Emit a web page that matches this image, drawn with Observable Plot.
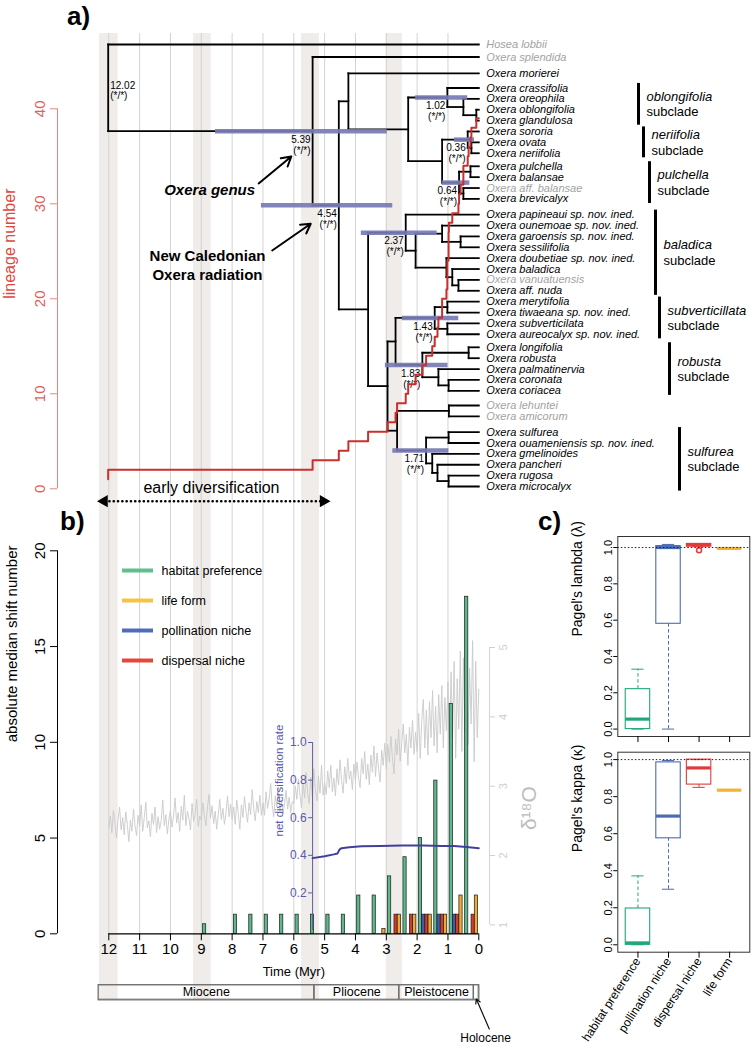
<!DOCTYPE html>
<html>
<head>
<meta charset="utf-8">
<script src="https://cdn.jsdelivr.net/npm/d3@7"></script>
<script src="https://cdn.jsdelivr.net/npm/@observablehq/plot@0.6"></script>
<style>
  html, body { margin: 0; padding: 0; background: #fff; }
  #fig { position: relative; width: 751px; height: 1048px; overflow: hidden; font-family: "Liberation Sans", Arial, Helvetica, sans-serif; }
  #fig .layer { position: absolute; left: 0; top: 0; width: 751px; height: 1048px; }
  #fig .panel { position: absolute; z-index: 10; font-weight: bold; font-size: 26px; line-height: 1; }
</style>
</head>
<body>
<div id="fig">
  <div class="panel" style="left:67px;top:3px">a)</div>
  <div class="panel" style="left:60px;top:508px">b)</div>
  <div class="panel" style="left:538px;top:508px">c)</div>
</div>
<script>
// ======================= DATA =======================
// ---- panel a: dated phylogeny ----
const tipNames = [
  "Hosea lobbii", "Oxera splendida", "Oxera morierei", "Oxera crassifolia", "Oxera oreophila",
  "Oxera oblongifolia", "Oxera glandulosa", "Oxera sororia", "Oxera ovata", "Oxera neriifolia",
  "Oxera pulchella", "Oxera balansae", "Oxera aff. balansae", "Oxera brevicalyx",
  "Oxera papineaui sp. nov. ined.", "Oxera ounemoae sp. nov. ined.", "Oxera garoensis sp. nov. ined.",
  "Oxera sessilifolia", "Oxera doubetiae sp. nov. ined.", "Oxera baladica", "Oxera vanuatuensis",
  "Oxera aff. nuda", "Oxera merytifolia", "Oxera tiwaeana sp. nov. ined.", "Oxera subverticilata",
  "Oxera aureocalyx sp. nov. ined.", "Oxera longifolia", "Oxera robusta", "Oxera palmatinervia",
  "Oxera coronata", "Oxera coriacea", "Oxera lehuntei", "Oxera amicorum", "Oxera sulfurea",
  "Oxera ouameniensis sp. nov. ined.", "Oxera gmelinoides", "Oxera pancheri", "Oxera rugosa",
  "Oxera microcalyx"
];
const greyTips = ["Hosea lobbii", "Oxera splendida", "Oxera aff. balansae", "Oxera vanuatuensis", "Oxera lehuntei", "Oxera amicorum"];
// [node id, age (Myr), [children top -> bottom]]
const treeNodes = [
  ["root", 12.02, ["Hosea lobbii", "OX"]],
  ["OX", 5.39, ["Oxera splendida", "NC"]],
  ["NC", 4.54, ["A", "B"]],
  ["A", 4.23, ["Oxera morierei", "C"]],
  ["C", 2.29, ["OBL", "D"]],
  ["OBL", 1.02, ["Oxera crassifolia", "E"]],
  ["E", 0.50, ["Oxera oreophila", "F"]],
  ["F", 0.08, ["Oxera oblongifolia", "Oxera glandulosa"]],
  ["D", 1.19, ["NER", "PUL"]],
  ["NER", 0.36, ["Oxera sororia", "G"]],
  ["G", 0.24, ["Oxera ovata", "Oxera neriifolia"]],
  ["PUL", 0.64, ["H", "I"]],
  ["H", 0.27, ["Oxera pulchella", "Oxera balansae"]],
  ["I", 0.50, ["Oxera aff. balansae", "Oxera brevicalyx"]],
  ["B", 3.59, ["BAL", "J"]],
  ["BAL", 2.37, ["Oxera papineaui sp. nov. ined.", "Na"]],
  ["Na", 2.05, ["Nb", "Nc"]],
  ["Nb", 1.19, ["Oxera ounemoae sp. nov. ined.", "Nd"]],
  ["Nd", 0.59, ["Oxera garoensis sp. nov. ined.", "Oxera sessilifolia"]],
  ["Nc", 1.05, ["Oxera doubetiae sp. nov. ined.", "Ne"]],
  ["Ne", 0.86, ["Oxera baladica", "Nf"]],
  ["Nf", 0.66, ["Oxera vanuatuensis", "Oxera aff. nuda"]],
  ["J", 2.96, ["K", "L"]],
  ["K", 2.70, ["SUBV", "ROB"]],
  ["SUBV", 1.43, ["M", "N"]],
  ["M", 1.02, ["Oxera merytifolia", "Oxera tiwaeana sp. nov. ined."]],
  ["N", 1.02, ["Oxera subverticilata", "Oxera aureocalyx sp. nov. ined."]],
  ["ROB", 1.83, ["O", "P"]],
  ["O", 0.33, ["Oxera longifolia", "Oxera robusta"]],
  ["P", 1.31, ["Oxera palmatinervia", "Q"]],
  ["Q", 0.98, ["Oxera coronata", "Oxera coriacea"]],
  ["L", 2.65, ["R", "SUL"]],
  ["R", 0.97, ["Oxera lehuntei", "Oxera amicorum"]],
  ["SUL", 1.71, ["S1", "S2"]],
  ["S1", 0.98, ["Oxera sulfurea", "Oxera ouameniensis sp. nov. ined."]],
  ["S2", 1.51, ["Oxera gmelinoides", "S3"]],
  ["S3", 1.34, ["Oxera pancheri", "S4"]],
  ["S4", 0.98, ["Oxera rugosa", "Oxera microcalyx"]]
];
const labeledNodes = ["OX", "NC", "OBL", "NER", "PUL", "BAL", "SUBV", "ROB", "SUL"];
const supportText = "(*/*)";
// 95% HPD of node ages
const hpdNode  = ["OX", "NC", "OBL", "NER", "PUL", "BAL", "SUBV", "ROB", "SUL"];
const hpdOld   = [8.54, 7.05, 2.05, 0.79, 1.19, 3.81, 2.48, 3.03, 2.79];
const hpdYoung = [2.97, 2.79, 0.36, 0.14, 0.29, 1.35, 0.65, 1.00, 0.97];
// subclades
const subcladeNames = ["oblongifolia", "neriifolia", "pulchella", "baladica", "subverticillata", "robusta", "sulfurea"];
const subcladeFirst = ["Oxera crassifolia", "Oxera sororia", "Oxera pulchella", "Oxera papineaui sp. nov. ined.", "Oxera merytifolia", "Oxera longifolia", "Oxera sulfurea"];
const subcladeLast  = ["Oxera glandulosa", "Oxera neriifolia", "Oxera brevicalyx", "Oxera aff. nuda", "Oxera aureocalyx sp. nov. ined.", "Oxera coriacea", "Oxera microcalyx"];

// shaded time windows (Myr)
const bandOld   = [12.30, 9.25, 5.75, 3.00];
const bandYoung = [11.70, 8.68, 5.17, 2.48];
const timeTicks = [12, 11, 10, 9, 8, 7, 6, 5, 4, 3, 2, 1, 0];
const lineageTicks = [0, 10, 20, 30, 40];

// ---- panel b: trait shifts per 0.5 Myr bin ----
const binOld      = [9, 8.5, 8, 7.5, 7, 6.5, 6, 5.5, 5, 4.5, 4, 3.5, 3, 2.5, 2, 1.5, 1, 0.5];
const habitat     = [0.5, 0, 1, 1, 1, 1, 1, 1, 1, 1, 2, 2, 3, 4, 5, 8, 12, 17.6];
const pollination = [0, 0, 0, 0, 0, 0, 0, 0, 0, 0, 0, 0, 0, 0, 1, 1, 1, 0];
const dispersal   = [0, 0, 0, 0, 0, 0, 0, 0, 0, 0, 0, 0, 1, 1, 1, 1, 1, 1];
const lifeForm    = [0, 0, 0, 0, 0, 0, 0, 0, 0, 0, 0, 0.25, 1, 1, 1, 1, 2, 2];
const shiftTicks  = [0, 5, 10, 15, 20];
const legendNames = ["habitat preference", "life form", "pollination niche", "dispersal niche"];

// benthic δ18O, 12 -> 0 Myr every 0.05 Myr
const d18O = [
  2.40, 2.57, 2.33, 2.65, 2.47, 2.25, 2.53, 2.70, 2.37, 2.55, 2.30, 2.63, 2.45, 2.20, 2.51, 2.35, 2.67, 2.43, 2.29, 2.58,
  2.42, 2.73, 2.35, 2.55, 2.77, 2.40, 2.50, 2.27, 2.61, 2.45, 2.70, 2.33, 2.56, 2.38, 2.51, 2.80, 2.43, 2.59, 2.31, 2.53,
  2.65, 2.41, 2.57, 2.83, 2.47, 2.62, 2.35, 2.71, 2.51, 2.87, 2.43, 2.64, 2.54, 2.37, 2.75, 2.49, 2.60, 2.81, 2.42, 2.57,
  2.51, 2.76, 2.58, 2.43, 2.70, 2.88, 2.54, 2.72, 2.46, 2.64, 2.38, 2.59, 2.81, 2.52, 2.68, 2.45, 2.62, 2.86, 2.56, 2.74,
  2.52, 2.70, 2.45, 2.80, 2.60, 2.38, 2.73, 2.55, 2.85, 2.64, 2.48, 2.76, 2.59, 2.95, 2.67, 2.50, 2.78, 2.62, 2.87, 2.58,
  2.76, 2.58, 2.92, 2.68, 2.82, 3.04, 2.72, 2.56, 2.86, 2.70, 2.97, 2.64, 2.80, 2.60, 2.75, 2.94, 2.67, 2.84, 2.62, 2.78,
  2.75, 3.00, 2.81, 3.10, 2.87, 2.69, 3.05, 2.83, 3.20, 2.90, 2.75, 3.13, 2.85, 3.25, 2.95, 2.79, 3.15, 2.90, 3.30, 2.87,
  3.05, 2.88, 3.22, 2.98, 3.30, 2.92, 3.12, 2.86, 3.25, 3.02, 3.38, 3.08, 2.90, 3.28, 3.04, 3.40, 3.10, 3.22, 2.95, 3.32,
  3.08, 3.35, 3.12, 2.98, 3.40, 3.18, 3.50, 3.10, 3.32, 3.02, 3.45, 3.20, 3.58, 3.14, 3.48, 3.25, 3.06, 3.52, 3.30, 3.62,
  3.25, 3.60, 3.35, 3.72, 3.40, 3.18, 3.68, 3.45, 3.82, 3.36, 3.62, 3.90, 3.48, 3.75, 3.30, 3.85, 3.55, 3.95, 3.46, 3.78,
  3.50, 4.05, 3.40, 3.95, 4.25, 3.55, 4.10, 3.45, 4.22, 3.70, 4.38, 3.58, 4.15, 3.48, 4.32, 3.75, 4.45, 3.55, 4.28, 3.80,
  4.50, 3.55, 4.65, 3.70, 4.80, 3.40, 4.55, 3.82, 4.95, 3.50, 4.85, 3.78, 5.20, 3.60, 4.70, 3.90, 5.10, 3.35, 4.80, 3.70,
  4.40
];
const d18OTicks = [1, 2, 3, 4, 5];
// net diversification rate through time
const rateAge = [5.39, 5.00, 4.70, 4.58, 4.52, 4.45, 4.20, 3.80, 3.20, 2.50, 1.80, 1.20, 0.80, 0.40, 0.00];
const rateVal = [0.385, 0.395, 0.405, 0.41, 0.43, 0.438, 0.443, 0.448, 0.45, 0.452, 0.452, 0.45, 0.449, 0.444, 0.438];
const rateTicks = [0.2, 0.4, 0.6, 0.8, 1.0];
// geological epochs
const epochName  = ["Miocene", "Pliocene", "Pleistocene", "Holocene"];
const epochOld   = [23.03, 5.333, 2.58, 0.16];
const epochYoung = [5.333, 2.58, 0.16, 0];

// ---- panel c: phylogenetic signal ----
const boxTraits = ["habitat preference", "pollination niche", "dispersal niche", "life form"];
const lambdaLow  = [0, 0, 1.005, 0.995];
const lambdaQ1   = [0, 0.58, 1.005, 0.995];
const lambdaMed  = [0.055, 1.0, 1.015, 0.995];
const lambdaQ3   = [0.22, 1.008, 1.02, 0.995];
const lambdaHigh = [0.33, 1.017, 1.02, 0.995];
const lambdaOutTrait = ["dispersal niche"];
const lambdaOutVal   = [0.985];
const kappaLow  = [0, 0.30, 0.85, 0.835];
const kappaQ1   = [0, 0.575, 0.865, 0.835];
const kappaMed  = [0.01, 0.695, 0.955, 0.835];
const kappaQ3   = [0.196, 0.985, 1.0, 0.835];
const kappaHigh = [0.372, 0.995, 1.0, 0.835];
const signalTicks = [0, 0.2, 0.4, 0.6, 0.8, 1.0];

// ======================= STYLE / LAYOUT =======================
const W = 751, H = 1048;
const X12 = 108.3, X0 = 478.3, PX = (X0 - X12) / 12;   // pixel position of 12 Myr and 0 Myr
const ageAt = px => (X0 - px) / PX;
const tx = (l, r) => ({domain: [ageAt(l), ageAt(r)]});
const FONT = "'Liberation Sans', Arial, Helvetica, sans-serif";
const fig = document.getElementById("fig");
const firstPanel = fig.querySelector(".panel");

const barColors = ["#5cb98b", "#3f5fae", "#d8392e", "#eeaa33"];        // habitat, pollination, dispersal, life form
const legendColors = ["#5ec08c", "#f6c445", "#4e6cb8", "#e2463c"];     // in legend order
const boxColors = ["#22a67a", "#4b6cb4", "#e23a3a", "#f3b234"];
const RED_AXIS = "#e0605a", LTT_RED = "#c9302c", RATE_BLUE = "#40409c", RATE_AXIS = "#5a5aa8", GREY = "#c9c9c9";

const rowGap = {
  "Oxera splendida": 0.15, "Oxera morierei": 0.5, "Oxera crassifolia": 0.35, "Oxera pulchella": 0.2,
  "Oxera papineaui sp. nov. ined.": 0.45, "Oxera longifolia": 0.2, "Oxera lehuntei": 0.35, "Oxera sulfurea": 0.45
};
const subcladeBarPx = [638, 643, 649, 655, 659, 669, 679];

function layer({left, right, top, bottom, x = {}, y = {}, marks}) {
  const svg = Plot.plot({
    width: W, height: H,
    marginLeft: left, marginRight: W - right, marginTop: top, marginBottom: H - bottom,
    x: {axis: null, label: null, ...x},
    y: {axis: null, label: null, ...y},
    color: {type: "identity"},
    style: {background: "transparent", overflow: "visible", fontFamily: FONT, fontSize: "10px", color: "#000"},
    marks
  });
  const div = document.createElement("div");
  div.className = "layer";
  div.appendChild(svg);
  fig.insertBefore(div, firstPanel);
}

// ======================= DERIVED =======================
const nodeById = new Map(treeNodes.map(([id, age, kids]) => [id, {id, age, kids}]));
const ageOf = id => nodeById.has(id) ? nodeById.get(id).age : 0;
const rowOf = new Map();
let cursor = -1;
(function place(id) {
  if (nodeById.has(id)) {
    const n = nodeById.get(id);
    n.kids.forEach(place);
    rowOf.set(id, (rowOf.get(n.kids[0]) + rowOf.get(n.kids[n.kids.length - 1])) / 2);
  } else {
    cursor += cursor < 0 ? 1 : 1 + (rowGap[id] || 0);
    rowOf.set(id, cursor);
  }
})(treeNodes[0][0]);
const maxRow = cursor;

const segments = [];
for (const n of nodeById.values()) {
  const ys = n.kids.map(k => rowOf.get(k));
  segments.push({x1: n.age, x2: n.age, y1: ys[0], y2: ys[ys.length - 1]});
  for (const k of n.kids) segments.push({x1: n.age, x2: ageOf(k), y1: rowOf.get(k), y2: rowOf.get(k)});
}
const tips = tipNames.map(name => ({name, row: rowOf.get(name), grey: greyTips.includes(name)}));
const nodeLabels = labeledNodes.map(id => ({age: ageOf(id), row: rowOf.get(id), text: d3.format(".2f")(ageOf(id)) + "\n" + supportText}));
const rootLabel = [{age: ageOf("root"), row: rowOf.get("root"), text: d3.format(".2f")(ageOf("root")) + "\n" + supportText}];
const hpd = hpdNode.map((id, i) => ({row: rowOf.get(id), old: hpdOld[i], young: hpdYoung[i]}));
const subclades = subcladeNames.map((name, i) => ({
  name, x: ageAt(subcladeBarPx[i]),
  y1: rowOf.get(subcladeFirst[i]) - 0.42, y2: rowOf.get(subcladeLast[i]) + 0.42
}));
// lineage-through-time from node ages
const nodeAgesSorted = treeNodes.map(d => d[1]).sort((a, b) => b - a);
const ltt = [{t: nodeAgesSorted[0], n: 1}, ...nodeAgesSorted.map((t, i) => ({t, n: i + 2})), {t: 0, n: nodeAgesSorted.length + 1}];

const bars = binOld.flatMap((b, i) => [habitat[i], pollination[i], dispersal[i], lifeForm[i]]
  .map((v, j) => ({x1: b - 0.055 - 0.105 * j, x2: b - 0.055 - 0.105 * (j + 1), v, fill: barColors[j]})))
  .filter(d => d.v > 0);
const d18OSeries = d18O.map((v, i) => ({t: 12 - 0.05 * i, v}));
const rate = rateAge.map((t, i) => ({t, r: rateVal[i]}));
const bands = bandOld.map((o, i) => ({old: o, young: bandYoung[i]}));
const legendItems = legendNames.map((name, i) => ({name, color: legendColors[i]}));

// ======================= LAYERS =======================
// shaded bands (whole figure)
layer({left: X12, right: X0, top: 33, bottom: 1000, x: tx(X12, X0), marks: [
  Plot.rect(bands, {x1: "old", x2: "young", fill: "#f0ecea"})
]});
// vertical grid lines
layer({left: X12, right: X0, top: 33, bottom: 933.3, x: tx(X12, X0), marks: [
  Plot.ruleX(timeTicks.filter(t => t > 0), {stroke: "#d3d3d3", strokeWidth: 1})
]});

// epoch bar
const EP_L = 97.7;
const epochs = epochName.map((name, i) => ({name, old: epochOld[i], young: epochYoung[i],
  mid: (Math.min(epochOld[i], ageAt(EP_L)) + epochYoung[i]) / 2}));
const holo = epochs.find(d => d.name === "Holocene");
layer({left: EP_L, right: X0, top: 984.3, bottom: 999.3, x: tx(EP_L, X0), y: {domain: [0, 1]}, marks: [
  Plot.rect(epochs, {x1: "old", x2: "young", stroke: "#6f6f6f", strokeWidth: 1.3, fill: "none", clip: true}),
  Plot.frame({stroke: "#6f6f6f", strokeWidth: 1.3}),
  Plot.text(epochs.filter(d => d.old - d.young > 0.5), {x: "mid", text: "name", fontSize: 12.5}),
  Plot.arrow([holo], {x1: d => d.mid - 0.42, y1: -1.95, x2: d => d.mid, y2: 0.05, headLength: 6, strokeWidth: 1.2, stroke: "#111"}),
  Plot.text([holo], {x: d => d.mid - 0.3, y: -2.55, text: d => d.name, fontSize: 12})
]});

// δ18O curve + right axis
const D_R = 489;
layer({left: X12, right: D_R, top: 647, bottom: 924.4, x: tx(X12, D_R), y: {domain: [1, 5]}, marks: [
  Plot.line(d18OSeries, {x: "t", y: "v", stroke: GREY, strokeWidth: 0.9}),
  Plot.ruleX([ageAt(D_R)], {y1: 1, y2: 5, stroke: "#d4d4d4"}),
  Plot.axisY(d18OTicks, {anchor: "right", tickSize: 5, tickPadding: 5, tickRotate: -90, lineAnchor: "top", fontSize: 11, color: "#cfcfcf", tickFormat: d3.format("d"), label: null}),
  Plot.text(["δ¹⁸O"], {frameAnchor: "right", rotate: -90, dx: 40, fontSize: 21, fill: "#bcbcbc"})
]});

// panel b: bars + axes
const B_L = 57;
layer({left: B_L, right: X0, top: 550.3, bottom: 933.3, x: tx(B_L, X0), y: {domain: [0, 20]}, marks: [
  Plot.rect(bars, {x1: "x1", x2: "x2", y1: 0, y2: "v", fill: "fill", stroke: "#1a1a1a", strokeWidth: 0.7}),
  Plot.ruleY([0], {x1: timeTicks[0], x2: timeTicks[timeTicks.length - 1], stroke: "#000", strokeWidth: 1.3}),
  Plot.ruleX([ageAt(B_L)], {y1: shiftTicks[0], y2: shiftTicks[shiftTicks.length - 1], stroke: "#000"}),
  Plot.axisY(shiftTicks, {anchor: "left", tickSize: 7, tickPadding: 6, tickRotate: -90, fontSize: 15, label: null}),
  Plot.text(["absolute median shift number"], {frameAnchor: "left", rotate: -90, dx: -45, fontSize: 15}),
  Plot.axisX(timeTicks, {anchor: "bottom", tickSize: 7, tickPadding: 3, fontSize: 15, label: null}),
  Plot.text(["Time (Myr)"], {x: d3.mean(timeTicks), frameAnchor: "bottom", dy: 42, fontSize: 13})
]});

// net diversification rate (inset axis at Oxera crown age)
const R_L = X0 - ageOf("OX") * PX;
layer({left: R_L, right: X0, top: 742, bottom: 930, x: tx(R_L, X0), y: {domain: [0, 1]}, marks: [
  Plot.ruleX([ageOf("OX")], {y1: 0, y2: 1, stroke: RATE_AXIS}),
  Plot.axisY(rateTicks, {anchor: "left", tickSize: 4, tickPadding: 2, fontSize: 12, color: RATE_AXIS, tickFormat: ".1f", label: null}),
  Plot.text(["net diversification rate"], {frameAnchor: "left", rotate: -90, dx: -33, fontSize: 11.5, fill: RATE_AXIS}),
  Plot.line(rate, {x: "t", y: "r", stroke: RATE_BLUE, strokeWidth: 2})
]});

// legend of panel b
layer({left: 122, right: 153, top: 569, bottom: 660, y: {type: "point", domain: legendNames, padding: 0}, marks: [
  Plot.ruleY(legendItems, {y: "name", stroke: "color", strokeWidth: 4}),
  Plot.text(legendItems, {y: "name", text: "name", frameAnchor: "right", textAnchor: "start", dx: 8, fontSize: 12.5})
]});

// panel a: tree
const R = maxRow;
layer({left: X12, right: X0, top: 44, bottom: 486, x: tx(X12, X0), y: {domain: [R, 0]}, marks: [
  Plot.link(segments, {x1: "x1", y1: "y1", x2: "x2", y2: "y2", stroke: "#000", strokeWidth: 1.8, strokeLinecap: "square"}),
  Plot.ruleY(hpd, {y: "row", x1: "old", x2: "young", stroke: "#777bb4", strokeWidth: 4.5, strokeOpacity: 0.92}),
  Plot.text(nodeLabels, {x: "age", y: "row", text: "text", textAnchor: "end", lineAnchor: "top", dx: -2, dy: 4, fontSize: 10, lineHeight: 1.1}),
  Plot.text(rootLabel, {x: "age", y: "row", text: "text", textAnchor: "start", lineAnchor: "top", dx: 2, dy: -6, fontSize: 10, lineHeight: 1.0}),
  Plot.text(tips, {x: 0, y: "row", text: "name", textAnchor: "start", dx: 7.5, fontSize: 11, fontStyle: "italic", fill: d => d.grey ? "#a2a2a2" : "#000"}),
  Plot.ruleX(subclades, {x: "x", y1: "y1", y2: "y2", stroke: "#000", strokeWidth: 3}),
  Plot.text(subclades, {x: "x", y: d => (d.y1 + d.y2) / 2, text: "name", textAnchor: "start", dx: 8, dy: -7.5, fontSize: 13, fontStyle: "italic"}),
  Plot.text(subclades, {x: "x", y: d => (d.y1 + d.y2) / 2, text: () => "subclade", textAnchor: "start", dx: 8, dy: 8, fontSize: 13}),
  // annotations
  Plot.text(["Oxera genus"], {x: 8.73, y: 13.43, fontSize: 15, fontWeight: "bold", fontStyle: "italic"}),
  Plot.arrow([0], {x1: 7.14, y1: 12.78, x2: 6.08, y2: 10.3, strokeWidth: 2, headLength: 8, stroke: "#000"}),
  Plot.text(["New Caledonian\nOxera radiation"], {x: 8.8, y: 20.2, fontSize: 15, fontWeight: "bold", lineHeight: 1.25}),
  Plot.arrow([0], {x1: 6.70, y1: 18.95, x2: 5.45, y2: 16.49, strokeWidth: 2, headLength: 8, stroke: "#000"}),
  Plot.text(["early diversification"], {x: 8.67, y: 40.8, fontSize: 16}),
  Plot.link([0], {x1: 12.12, x2: 5.07, y1: 42.0, y2: 42.0, stroke: "#000", strokeWidth: 2.6, strokeDasharray: "0.1,4.2", strokeLinecap: "round"}),
  Plot.dot([{t: 12.15, r: -90}, {t: 5.04, r: 90}], {x: "t", y: 42.0, rotate: "r", symbol: "triangle", r: 4.6, fill: "#000", stroke: "none"})
]});

// lineage through time + red axis
const L_L = 57;
layer({left: L_L, right: X0, top: 108.3, bottom: 488.3, x: tx(L_L, X0), y: {domain: [0, 40]}, marks: [
  Plot.ruleX([ageAt(L_L)], {y1: lineageTicks[0], y2: lineageTicks[lineageTicks.length - 1], stroke: "#e8857f"}),
  Plot.axisY(lineageTicks, {anchor: "left", tickSize: 7, tickPadding: 6, tickRotate: -90, fontSize: 15, color: RED_AXIS, stroke: "#e8857f", label: null}),
  Plot.text(["lineage number"], {frameAnchor: "left", rotate: -90, dx: -48, fontSize: 16, fill: "#e2463c"}),
  Plot.line(ltt, {x: "t", y: "n", curve: "step-after", stroke: LTT_RED, strokeWidth: 2})
]});

// panel c: box plots
function boxLayer(top, bottom, low, q1, med, q3, high, outT, outV, yLabel, withNames) {
  const n = boxTraits.length;
  const boxes = boxTraits.map((name, i) => ({i: i + 1, name, lo: low[i], q1: q1[i], med: med[i], q3: q3[i], hi: high[i], c: boxColors[i]}));
  const outs = outT.map((name, k) => ({i: boxTraits.indexOf(name) + 1, v: outV[k], c: boxColors[boxTraits.indexOf(name)]}));
  const ext = d3.extent([...low, ...high, ...outV]);
  const pad = (ext[1] - ext[0]) * 0.04;
  const marks = [
    Plot.ruleX(boxes.filter(d => d.hi > d.q3), {x: "i", y1: "q3", y2: "hi", stroke: "c", strokeDasharray: "3.5,2.5"}),
    Plot.ruleX(boxes.filter(d => d.lo < d.q1), {x: "i", y1: "lo", y2: "q1", stroke: "c", strokeDasharray: "3.5,2.5"}),
    Plot.ruleY(boxes, {y: "hi", x1: d => d.i - 0.2, x2: d => d.i + 0.2, stroke: "c"}),
    Plot.ruleY(boxes, {y: "lo", x1: d => d.i - 0.2, x2: d => d.i + 0.2, stroke: "c"}),
    Plot.rect(boxes, {x1: d => d.i - 0.4, x2: d => d.i + 0.4, y1: "q1", y2: "q3", fill: "none", stroke: "c", strokeWidth: 1.1}),
    Plot.ruleY(boxes, {y: "med", x1: d => d.i - 0.4, x2: d => d.i + 0.4, stroke: "c", strokeWidth: 3.2}),
    Plot.dot(outs, {x: "i", y: "v", r: 2.5, stroke: "c", fill: "none"}),
    Plot.ruleY([1], {stroke: "#222", strokeDasharray: "1.5,2", strokeWidth: 1}),
    Plot.frame({stroke: "#333", strokeWidth: 1}),
    Plot.axisY(signalTicks, {anchor: "left", tickSize: 4, tickPadding: 2, tickRotate: -90, fontSize: 11, tickFormat: ".1f", label: null}),
    Plot.axisX(boxes.map(d => d.i), {anchor: "bottom", tickSize: 6, tickFormat: () => "", label: null}),
    Plot.text([yLabel], {frameAnchor: "left", rotate: -90, dx: -40, fontSize: 14})
  ];
  if (withNames) marks.push(Plot.text(boxes, {x: "i", text: "name", frameAnchor: "bottom", dy: 9, dx: 3, rotate: -57, textAnchor: "end", fontSize: 12}));
  layer({left: 617.3, right: 749.3, top, bottom,
    x: {domain: [0.5 - 0.04 * n, n + 0.5 + 0.04 * n]},
    y: {domain: [ext[0] - pad, ext[1] + pad]}, marks});
}
boxLayer(536, 736, lambdaLow, lambdaQ1, lambdaMed, lambdaQ3, lambdaHigh, lambdaOutTrait, lambdaOutVal, "Pagel's lambda (λ)", false);
boxLayer(751.7, 951.7, kappaLow, kappaQ1, kappaMed, kappaQ3, kappaHigh, [], [], "Pagel's kappa (κ)", true);
</script>
</body>
</html>
